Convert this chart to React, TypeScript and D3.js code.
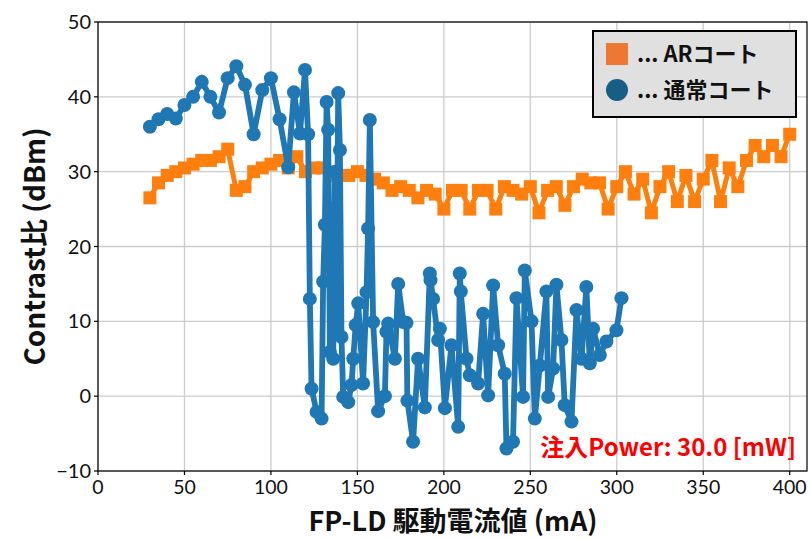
import React from "react";
import * as d3 from "d3";

const arX: number[] = [30,35,40,45,50,55,60,65,70,75,80,85,90,95,100,105,110,115,120,125,130,135,140,145,150,155,160,165,170,175,180,185,190,195,200,205,210,215,220,225,230,235,240,245,250,255,260,265,270,275,280,285,290,295,300,305,310,315,320,325,330,335,340,345,350,355,360,365,370,375,380,385,390,395,400];
const arY: number[] = [26.5,28.5,29.5,30,30.5,31,31.5,31.5,32,33,27.5,28,30,30.5,31,31.5,30.5,32,30,30.5,30.5,29.5,29.5,29.5,30,29.5,29,28.5,27.5,28,27.5,26.5,27.5,27,25,27.5,27.5,25,27.5,27.5,25,28,27.5,27,28,24.5,27.5,28,25.5,28,29,28.5,28.5,25,28,30,27,29,24.5,28,30,26,29.5,26,29,31.5,26,30.5,28,31.5,33.5,32,33.5,32,35];

const normX: number[] = [30,35,40,45,50,55,60,65,70,75,80,85,90,95,100,105,110,113.3,116.8,119.7,121.5,122.5,123.5,126.4,129.3,130.2,131.2,132.2,133.1,134.1,135.2,136,137,137.8,138.9,139.9,140.8,141.8,144.7,146.6,147.6,149,150.5,153.3,155.3,156.2,157.2,159.1,162,165.9,166.8,167.8,171.7,173.6,176.5,178.4,178.9,182.2,185.1,189,191.9,192.3,193.8,196.7,197.7,200.6,204.4,208.3,209.2,209.8,213.1,215,219.8,222.7,225.6,228.5,231.4,235.2,236.2,240,242,245.8,246.8,250.7,252.6,255.5,259.3,260.3,263.2,265.1,268,269.9,273.8,276.7,279.6,282.4,284.4,286.3,290.2,294,299.8,302.7];
const normY: number[] = [36,37,37.7,37.1,38.9,40,42,40,37.9,42.5,44.1,41.6,35,40.9,42.5,37,30.6,40.6,35.1,43.6,35,13,1,-2.1,-3,15.3,22.9,39.3,35.6,5.9,25,5,30,9,40.5,32.9,7.9,-0.1,-0.8,1.5,5,9.5,12.4,1.7,13.9,22.4,36.9,9.9,-2,0,8.6,9.7,5,15,9.9,9.8,-0.6,-6.1,5,-1.5,16.4,15.5,13,7.5,9,-1.6,6.8,-4.1,16.4,14,5,2.8,1.7,11,0.1,14.8,6.8,3,-7,-6.1,13.1,-0.1,16.8,10,-3,4.1,14,-0.1,3.7,14.9,7.5,-1.2,-3.4,11.5,5,14.6,4.4,9,5.5,7.3,8.8,13.1];

const xTicks: number[] = [0,50,100,150,200,250,300,350,400];
const yTicks: number[] = [-10,0,10,20,30,40,50];

const W = 810, H = 538;
const L = 98, R = 807, T = 22, B = 471;

export default function App() {
  const x = d3.scaleLinear().domain([0, 410]).range([L, R]);
  const y = d3.scaleLinear().domain([-10, 50]).range([B, T]);
  const arPts = arX.map((v, i) => [v, arY[i]] as [number, number]);
  const nPts = normX.map((v, i) => [v, normY[i]] as [number, number]);
  const line = d3.line<[number, number]>().x(d => x(d[0])).y(d => y(d[1]));
  const tickFont = "Lato, 'DejaVu Sans', sans-serif";
  const jpFont = "'Noto Sans CJK JP', 'Noto Sans', sans-serif";
  const fmt = (v: number) => (v < 0 ? "\u2212" + Math.abs(v) : String(v));
  return (
    <div style={{ position: "absolute", left: 0, top: 0 }}>
      <svg width={W} height={H} style={{ display: "block", background: "#fff" }}>
        <defs>
          <clipPath id="plotclip">
            <rect x={L} y={T} width={R - L} height={B - T} />
          </clipPath>
        </defs>
        {xTicks.map(t => (
          <line key={"gx" + t} x1={x(t)} x2={x(t)} y1={T} y2={B} stroke="#cccccc" strokeWidth={1.3} />
        ))}
        {yTicks.map(t => (
          <line key={"gy" + t} x1={L} x2={R} y1={y(t)} y2={y(t)} stroke="#cccccc" strokeWidth={1.3} />
        ))}
        <g clipPath="url(#plotclip)">
          <path d={line(arPts) || ""} fill="none" stroke="#ff7f0e" strokeWidth={5} strokeLinejoin="round" />
          {arPts.map((p, i) => (
            <rect key={"a" + i} x={x(p[0]) - 6.5} y={y(p[1]) - 6.5} width={13} height={13} fill="#ff7f0e" />
          ))}
          <path d={line(nPts) || ""} fill="none" stroke="#1f77b4" strokeWidth={5.8} strokeLinejoin="round" />
          {nPts.map((p, i) => (
            <circle key={"n" + i} cx={x(p[0])} cy={y(p[1])} r={7} fill="#1f77b4" />
          ))}
        </g>
        <rect x={L} y={T} width={R - L} height={B - T} fill="none" stroke="#000" strokeWidth={1.2} />
        {xTicks.map(t => (
          <g key={"tx" + t}>
            <line x1={x(t)} x2={x(t)} y1={B} y2={B + 4} stroke="#000" strokeWidth={1.2} />
            <text x={x(t)} y={B + 23} textAnchor="middle" fontFamily={tickFont} fontSize={19.5} fill="#111">{fmt(t)}</text>
          </g>
        ))}
        {yTicks.map(t => (
          <g key={"ty" + t}>
            <line x1={L - 4} x2={L} y1={y(t)} y2={y(t)} stroke="#000" strokeWidth={1.2} />
            <text x={L - 7} y={y(t) + 7} textAnchor="end" fontFamily={tickFont} fontSize={20} fill="#111">{fmt(t)}</text>
          </g>
        ))}
        <text x={453} y={531} textAnchor="middle" fontFamily={jpFont} fontWeight={700} fontSize={27} fill="#111">FP-LD 駆動電流値 (mA)</text>
        <text transform={`translate(45, ${(T + B) / 2}) rotate(-90)`} textAnchor="middle" fontFamily={jpFont} fontWeight={700} fontSize={28} fill="#111">Contrast比 (dBm)</text>
        <text x={796} y={456} textAnchor="end" fontFamily={jpFont} fontWeight={700} fontSize={24} fill="#ff0000">注入Power: 30.0 [mW]</text>
        <g>
          <rect x={593} y={31} width={203} height={86} fill="#e0e0e0" stroke="#000" strokeWidth={2} />
          <rect x={606} y={43} width={22} height={22} fill="#ee7733" />
          <circle cx={617} cy={90} r={11} fill="#175e85" />
          <text x={637} y={62} fontFamily={jpFont} fontWeight={700} fontSize={22} fill="#111">... ARコート</text>
          <text x={637} y={98} fontFamily={jpFont} fontWeight={700} fontSize={22} fill="#111">... 通常コート</text>
        </g>
      </svg>
    </div>
  );
}
